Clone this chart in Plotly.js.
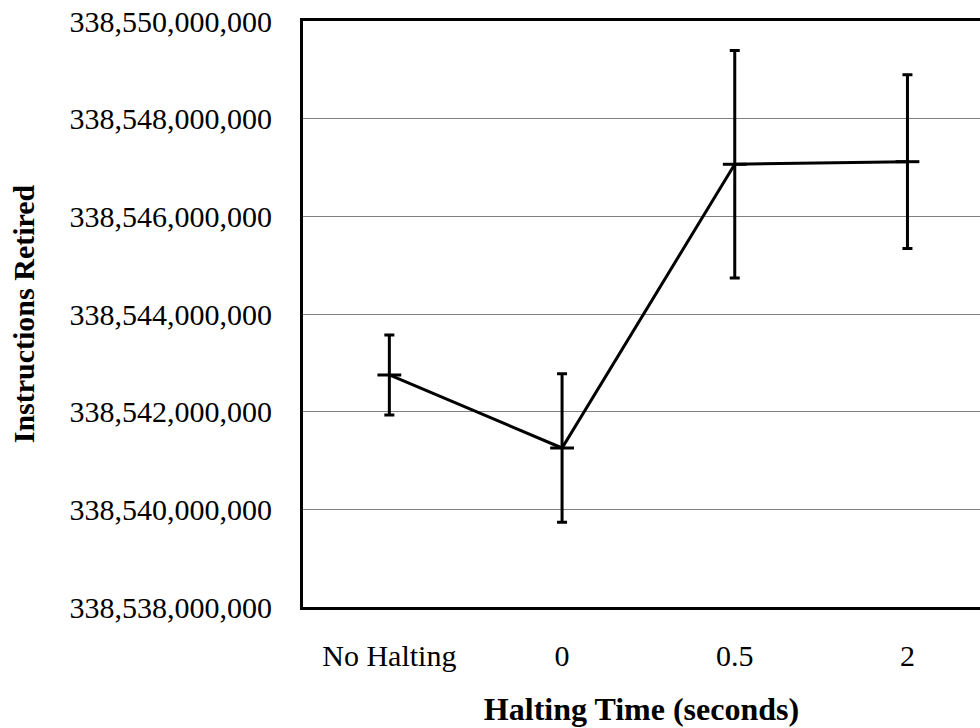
<!DOCTYPE html>
<html>
<head>
<meta charset="utf-8">
<script src="https://cdn.plot.ly/plotly-3.0.1.min.js"></script>
<style>
html,body{margin:0;padding:0;background:#fff;overflow:hidden;}
#chart{width:980px;height:728px;}
</style>
</head>
<body>
<div id="chart"></div>
<script>
// Data
const categories = ['No Halting', '0', '0.5', '2'];
const instructionsRetired = [338542751000, 338541256000, 338547066000, 338547119000];
const errorValues = [820000, 1520000, 2330000, 1780000];
const yTickValues = [338538000000, 338540000000, 338542000000, 338544000000, 338546000000, 338548000000, 338550000000];

const fontFamily = '"Liberation Serif", "Times New Roman", Times, serif';

const trace = {
  type: 'scatter',
  mode: 'lines+markers',
  x: categories,
  y: instructionsRetired,
  line: {color: '#000', width: 3},
  marker: {symbol: 'line-ew', size: 17, color: '#000', line: {color: '#000', width: 3}},
  error_y: {type: 'data', array: errorValues, visible: true, color: '#000', thickness: 3, width: 5},
  showlegend: false,
  hoverinfo: 'x+y'
};

const layout = {
  width: 980,
  height: 728,
  margin: {l: 303, r: 0, t: 21, b: 121, pad: 0},
  paper_bgcolor: '#fff',
  plot_bgcolor: '#fff',
  font: {family: fontFamily, color: '#000', size: 30},
  xaxis: {
    type: 'category',
    range: [-0.5, 3.42],
    showline: true,
    linecolor: '#000',
    linewidth: 3,
    mirror: true,
    showgrid: false,
    zeroline: false,
    ticks: '',
    ticklabelstandoff: 20,
    tickfont: {family: fontFamily, size: 30, color: '#000'},
    title: {text: '<b>Halting Time (seconds)</b>', font: {family: fontFamily, size: 32, color: '#000'}, standoff: 27},
    automargin: false,
    fixedrange: true
  },
  yaxis: {
    range: [338538000000, 338550000000],
    tickvals: yTickValues,
    tickformat: ',d',
    showline: true,
    linecolor: '#000',
    linewidth: 3,
    showgrid: true,
    gridcolor: '#808080',
    gridwidth: 1,
    zeroline: false,
    ticks: '',
    ticklabelstandoff: 22,
    tickfont: {family: fontFamily, size: 30, color: '#000'},
    title: {text: '<b>Instructions Retired</b>', font: {family: fontFamily, size: 30, color: '#000'}, standoff: 27},
    automargin: false,
    fixedrange: true
  }
};

Plotly.newPlot('chart', [trace], layout, {displayModeBar: false, staticPlot: true});
</script>
</body>
</html>
